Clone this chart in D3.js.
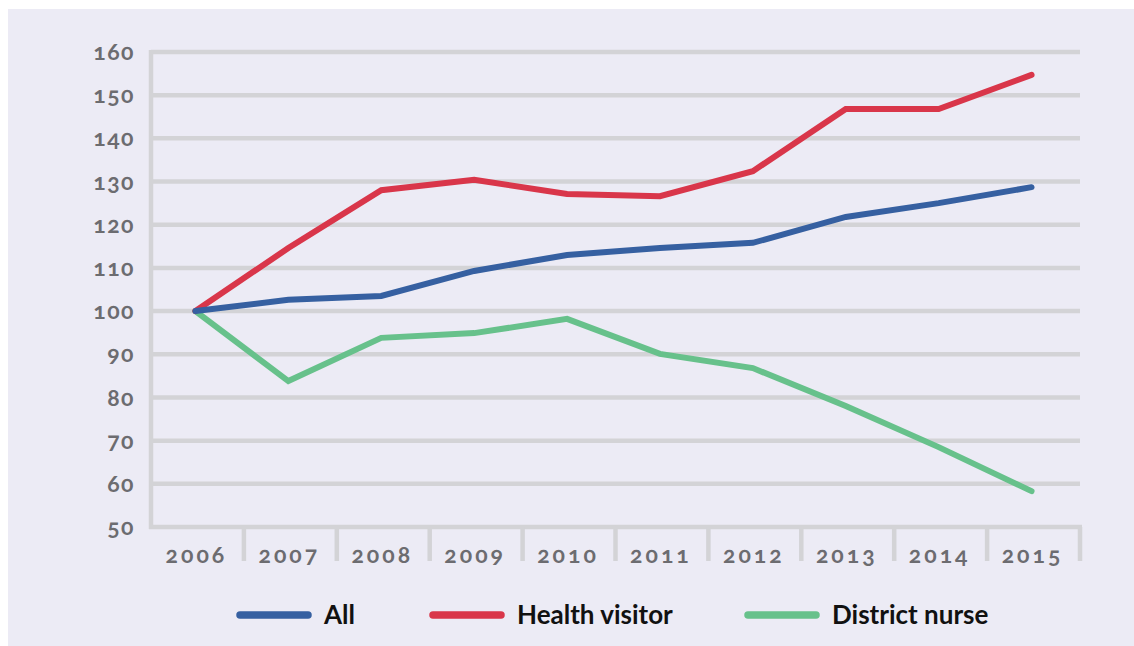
<!DOCTYPE html>
<html>
<head>
<meta charset="utf-8">
<script src="https://cdn.jsdelivr.net/npm/d3@7"></script>
<style>
  body { margin: 0; background: #ffffff; }
  svg { display: block; }
  .tick-label { font-family: "Lato", "Noto Sans", sans-serif; font-weight: 700;
    font-variant-numeric: oldstyle-nums; font-feature-settings: "onum" 1; fill: #6c6c70; }
  .legend-label { font-family: "Lato", "Noto Sans", sans-serif; font-weight: 700; fill: #111; }
</style>
</head>
<body>
<svg id="chart" width="1134" height="646"></svg>
<script>
var years = ['2006', '2007', '2008', '2009', '2010', '2011', '2012', '2013', '2014', '2015'];
var allStaff = [100, 102.6, 103.5, 109.3, 113.0, 114.6, 115.8, 121.8, 125.0, 128.7];
var healthVisitor = [100, 114.6, 128.0, 130.4, 127.1, 126.6, 132.4, 146.8, 146.8, 154.7];
var districtNurse = [100, 83.8, 93.8, 94.9, 98.2, 90.1, 86.8, 78.0, 68.5, 58.3];
var seriesNames = ['All', 'Health visitor', 'District nurse'];
var seriesColors = ['#3660a1', '#d9364a', '#67c18b'];
var yTicks = [50, 60, 70, 80, 90, 100, 110, 120, 130, 140, 150, 160];

function drawChart(svg) {
  var width = 1134, height = 646;
  var margins = { top: 52, bottom: 119, left: 151, right: 54 };
  var gridColor = '#d3d3d6';

  var root = d3.select(svg);

  // panel background
  root.append('rect')
    .attr('x', 8).attr('y', 9)
    .attr('width', width - 8).attr('height', height - 9)
    .attr('fill', '#ecebf5');

  var x = d3.scaleBand()
    .domain(years)
    .range([margins.left, width - margins.right]);
  var y = d3.scaleLinear()
    .domain([50, 160])
    .range([height - margins.bottom, margins.top]);

  // horizontal grid
  root.append('g')
    .selectAll('line')
    .data(yTicks.slice(1))
    .enter()
    .append('line')
    .attr('x1', margins.left)
    .attr('x2', width - margins.right)
    .attr('y1', function(d) { return y(d); })
    .attr('y2', function(d) { return y(d); })
    .attr('stroke', gridColor)
    .attr('stroke-width', 4.5);

  // y axis line
  root.append('line')
    .attr('x1', margins.left).attr('x2', margins.left)
    .attr('y1', y(160) - 2).attr('y2', y(50) + 2)
    .attr('stroke', gridColor)
    .attr('stroke-width', 4.5);

  // x axis line
  root.append('line')
    .attr('x1', margins.left - 2).attr('x2', width - margins.right + 2)
    .attr('y1', y(50)).attr('y2', y(50))
    .attr('stroke', gridColor)
    .attr('stroke-width', 4.5);

  // band separators below the axis
  root.append('g')
    .selectAll('line')
    .data(years)
    .enter()
    .append('line')
    .attr('x1', function(d) { return x(d) + x.bandwidth(); })
    .attr('x2', function(d) { return x(d) + x.bandwidth(); })
    .attr('y1', y(50))
    .attr('y2', y(50) + 34)
    .attr('stroke', gridColor)
    .attr('stroke-width', 4.5);

  // y labels
  root.append('g')
    .selectAll('text')
    .data(yTicks)
    .enter()
    .append('text')
    .attr('class', 'tick-label')
    .attr('x', 135)
    .attr('y', function(d) { return y(d); })
    .attr('dy', '0.35em')
    .attr('text-anchor', 'end')
    .attr('font-size', '23px')
    .style('letter-spacing', '1.5px')
    .text(function(d) { return d; });

  // x labels
  root.append('g')
    .selectAll('text')
    .data(years)
    .enter()
    .append('text')
    .attr('class', 'tick-label')
    .attr('x', function(d) { return x(d) + x.bandwidth() / 2 - 1; })
    .attr('y', y(50) + 36)
    .attr('text-anchor', 'middle')
    .attr('font-size', '23px')
    .style('letter-spacing', '3px')
    .text(function(d) { return d; });

  // lines
  var series = [allStaff, healthVisitor, districtNurse];
  var line = d3.line()
    .x(function(d, i) { return x(years[i]) + x.bandwidth() / 2 - 2; })
    .y(function(d) { return y(d); });

  // draw green, red, blue so that blue sits on top at the start like the reference
  [2, 1, 0].forEach(function(k) {
    root.append('path')
      .datum(series[k])
      .attr('d', line)
      .attr('fill', 'none')
      .attr('stroke', seriesColors[k])
      .attr('stroke-width', 6)
      .attr('stroke-linecap', 'round')
      .attr('stroke-linejoin', 'miter');
  });

  // legend
  var legendX = [240, 433, 748];
  var legendY = 615;
  var legend = root.append('g')
    .selectAll('g')
    .data(seriesNames)
    .enter()
    .append('g')
    .attr('transform', function(d, i) { return 'translate(' + legendX[i] + ',' + legendY + ')'; });

  legend.append('line')
    .attr('x1', 0).attr('x2', 68)
    .attr('y1', 0).attr('y2', 0)
    .attr('stroke', function(d, i) { return seriesColors[i]; })
    .attr('stroke-width', 7.5)
    .attr('stroke-linecap', 'round');

  legend.append('text')
    .attr('class', 'legend-label')
    .attr('x', 84)
    .attr('y', 9)
    .attr('font-size', '26px')
    .text(function(d) { return d; });
}

drawChart('#chart');
</script>
</body>
</html>
